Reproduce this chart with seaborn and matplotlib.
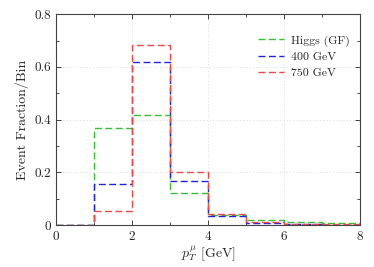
import numpy as np
import pandas as pd
import seaborn as sns
from matplotlib import pyplot as plt

# bin left edges in GeV (width 1)
bins = [0, 1, 2, 3, 4, 5, 6, 7, 8]
centers = [0.5, 1.5, 2.5, 3.5, 4.5, 5.5, 6.5, 7.5]

higgs = [0.0, 0.369, 0.417, 0.122, 0.038, 0.019, 0.010, 0.006]
m400 = [0.0, 0.155, 0.617, 0.166, 0.034, 0.009, 0.004, 0.002]
m750 = [0.0, 0.052, 0.682, 0.201, 0.042, 0.012, 0.005, 0.003]

labels = ['Higgs (GF)', '400 GeV', '750 GeV']
colors = ['#33c033', '#2020f0', '#f04848']

sns.set_style('ticks')
plt.rcParams['font.family'] = ['cmr10', 'DejaVu Serif']
plt.rcParams['mathtext.fontset'] = 'cm'
plt.rcParams['axes.formatter.use_mathtext'] = True

fig = plt.figure(figsize=(3.74, 2.67), dpi=100)
ax = fig.add_axes([0.15, 0.157, 0.8126, 0.79])

for vals, lab, col in zip([higgs, m400, m750], labels, colors):
    df = pd.DataFrame({'pt': centers, 'w': vals})
    sns.histplot(data=df, x='pt', weights='w', bins=bins, element='step',
                 fill=False, color=col, linestyle=(0, (5, 2.5)), linewidth=1.0,
                 label=lab, ax=ax)

ax.set_xlim(0, 8)
ax.set_ylim(0, 0.8)
ax.set_xticks([0, 2, 4, 6, 8])
ax.set_xticks([1, 3, 5, 7], minor=True)
ax.set_yticks([0, 0.2, 0.4, 0.6, 0.8])
ax.set_yticklabels(['0', '0.2', '0.4', '0.6', '0.8'])
ax.set_yticks([0.1, 0.3, 0.5, 0.7], minor=True)
ax.tick_params(which='both', direction='in', top=True, right=True, labelsize=9.5)
ax.tick_params(which='major', length=3.5, width=0.6)
ax.tick_params(which='minor', length=2, width=0.6)
ax.grid(True, which='major', color='#dddddd', linestyle=(0, (1.5, 2.5)), linewidth=0.6)
for s in ax.spines.values():
    s.set_linewidth(0.8)
    s.set_color('#444444')

ax.set_xlabel(r'$p_T^{\mu}$ [GeV]', fontsize=10, labelpad=1)
ax.set_ylabel('Event Fraction/Bin', fontsize=10, labelpad=4)

ax.legend(loc='upper right', bbox_to_anchor=(1.0, 0.95), frameon=False,
          fontsize=8.5, handlelength=2.2, handletextpad=0.6, labelspacing=0.45)

fig.savefig('out.png', dpi=100)
